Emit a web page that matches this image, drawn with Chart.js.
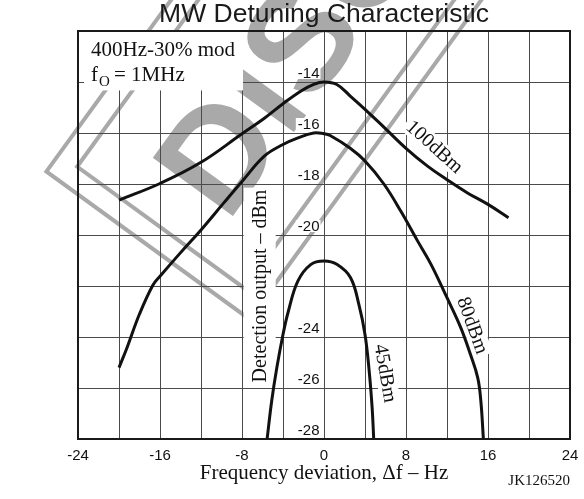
<!DOCTYPE html>
<html>
<head>
<meta charset="utf-8">
<script src="https://cdn.jsdelivr.net/npm/chart.js@4.4.1/dist/chart.umd.min.js"></script>
<style>
  html, body { margin: 0; padding: 0; background: #fff; }
  #wrap { width: 584px; height: 499px; }
</style>
</head>
<body>
<div id="wrap"><canvas id="detuneChart" width="584" height="499"></canvas></div>
<script>
// Frequency deviation (Hz) and detection output (dBm)
var x100 = [-20, -16, -12, -8, -5.85, -4, -2.2, -1, 0, 1.25, 2.56, 4, 5.84, 8, 10.1, 12, 14, 16, 18];
var y100 = [-18.63, -17.98, -17.15, -16.03, -15.43, -14.85, -14.34, -14.09, -14.0, -14.1, -14.55, -15.07, -15.77, -16.6, -17.3, -17.83, -18.35, -18.8, -19.32];

var x80 = [-20, -19.2, -18, -16.7, -16, -14.1, -12, -9.8, -8, -5.8, -4, -2.6, -1, 0, 0.6, 2.56, 4, 5.84, 7.5, 9.14, 10.44, 12, 13.35, 14.3, 15, 15.3, 15.55];
var y80 = [-25.2, -24.4, -23.1, -21.97, -21.62, -20.74, -19.8, -18.75, -17.9, -16.9, -16.45, -16.2, -16.0, -16.03, -16.1, -16.6, -17.1, -18.0, -19.07, -20.24, -21.15, -22.46, -23.64, -24.7, -25.6, -26.5, -28];

var x45 = [-5.55, -5.1, -4.6, -4, -3.47, -2.54, -1.3, 0, 1.25, 2.58, 3.4, 4, 4.4, 4.7, 4.85];
var y45 = [-28, -26.5, -25.2, -23.9, -22.98, -21.8, -21.16, -21.02, -21.15, -21.67, -22.72, -23.9, -25.3, -26.8, -28];

var xTickLabels = [-24, -16, -8, 0, 8, 16, 24];
var yTickLabels = [-14, -16, -18, -20, -24, -26, -28];

var SANS = "'Liberation Sans', Arial, sans-serif";
var SERIF = "'Liberation Serif', 'Times New Roman', serif";
var GREY = '#a9a9a9';

function toPoints(xs, ys) {
    return xs.map(function (x, i) { return { x: x, y: ys[i] }; });
}

// white backed text, rotated about its centre
function boxedText(ctx, text, px, py, deg, font) {
    ctx.save();
    ctx.translate(px, py);
    ctx.rotate(deg * Math.PI / 180);
    ctx.font = font;
    var w = ctx.measureText(text).width;
    ctx.fillStyle = '#fff';
    ctx.fillRect(-w / 2 - 3, -10, w + 6, 20);
    ctx.fillStyle = '#111';
    ctx.textAlign = 'center';
    ctx.textBaseline = 'alphabetic';
    ctx.fillText(text, 0, 6);
    ctx.restore();
}

var decor = {
    id: 'decor',
    beforeDraw: function (chart) {
        var ctx = chart.ctx;
        ctx.save();
        ctx.fillStyle = '#fff';
        ctx.fillRect(0, 0, chart.width, chart.height);
        // DISCONTINUED stamp behind everything
        ctx.translate(320, 222);
        ctx.rotate(-54 * Math.PI / 180);
        ctx.strokeStyle = GREY;
        ctx.lineWidth = 4;
        ctx.strokeRect(-120, -251, 1000, 251);
        ctx.strokeRect(-98, -229, 1000, 207);
        ctx.fillStyle = GREY;
        ctx.font = 'bold 144px ' + SANS;
        ctx.fillText('DISCONTINUED', -56, -74);
        ctx.restore();
    },
    beforeDatasetsDraw: function (chart) {
        var ctx = chart.ctx, xs = chart.scales.x, ys = chart.scales.y, a = chart.chartArea;
        ctx.save();

        // conditions box, top left
        var bx = xs.getPixelForValue(-7.9), by = ys.getPixelForValue(-14.33);
        ctx.fillStyle = '#fff';
        ctx.fillRect(a.left + 6, a.top + 1, bx - a.left - 6, by - a.top - 1);
        ctx.fillStyle = '#111';
        ctx.textAlign = 'left';
        ctx.textBaseline = 'alphabetic';
        ctx.font = '21px ' + SERIF;
        ctx.fillText('400Hz-30% mod', a.left + 13, a.top + 25);
        ctx.fillText('f', a.left + 13, a.top + 50);
        ctx.font = '15px ' + SERIF;
        ctx.fillText('O', a.left + 21, a.top + 55);
        ctx.font = '21px ' + SERIF;
        ctx.fillText('= 1MHz', a.left + 36, a.top + 50);

        // y tick labels sit inside the plot, left of the 0 Hz line
        var lx = xs.getPixelForValue(0) - 4.5;
        ctx.font = '15px ' + SANS;
        ctx.textAlign = 'right';
        yTickLabels.forEach(function (v) {
            var py = ys.getPixelForValue(v) - 4;
            var w = ctx.measureText(String(v)).width;
            ctx.fillStyle = '#fff';
            ctx.fillRect(lx - w - 2, py - 11, w + 3, 12);
            ctx.fillStyle = '#111';
            ctx.fillText(String(v), lx, py);
        });

        // y axis title, also inside the plot
        ctx.save();
        ctx.translate(xs.getPixelForValue(-6.18), ys.getPixelForValue(-22));
        ctx.rotate(-Math.PI / 2);
        ctx.font = '20px ' + SERIF;
        var tw = ctx.measureText('Detection output \u2013 dBm').width;
        ctx.fillStyle = '#fff';
        ctx.fillRect(-tw / 2 - 2, -17, tw + 4, 32);
        ctx.fillStyle = '#111';
        ctx.textAlign = 'center';
        ctx.fillText('Detection output \u2013 dBm', 0, 5.5);
        ctx.restore();

        // curve labels
        boxedText(ctx, '100dBm', xs.getPixelForValue(10.8), ys.getPixelForValue(-16.54), 42, '20px ' + SERIF);
        boxedText(ctx, '80dBm', xs.getPixelForValue(14.5), ys.getPixelForValue(-23.54), 70, '20px ' + SERIF);
        boxedText(ctx, '45dBm', xs.getPixelForValue(6.0), ys.getPixelForValue(-25.42), 80, '20px ' + SERIF);

        ctx.restore();
    },
    afterDatasetsDraw: function (chart) {
        var ctx = chart.ctx, a = chart.chartArea;
        ctx.save();
        ctx.strokeStyle = '#1a1a1a';
        ctx.lineWidth = 2;
        ctx.strokeRect(a.left, a.top, a.right - a.left, a.bottom - a.top);

        ctx.fillStyle = '#1a1a1a';
        ctx.textAlign = 'center';
        ctx.textBaseline = 'alphabetic';
        ctx.font = '26.5px ' + SANS;
        ctx.fillText('MW Detuning Characteristic', (a.left + a.right) / 2, 21.7);

        ctx.fillStyle = '#111';
        ctx.font = '21px ' + SERIF;
        ctx.fillText('Frequency deviation, \u0394f \u2013 Hz', (a.left + a.right) / 2, 479);

        ctx.textAlign = 'right';
        ctx.font = '15px ' + SERIF;
        ctx.fillText('JK126520', a.right, 485);
        ctx.restore();
    }
};

function curve(xs, ys) {
    return {
        data: toPoints(xs, ys),
        showLine: true,
        borderColor: '#111',
        borderWidth: 3,
        pointRadius: 0,
        fill: false,
        tension: 0.4
    };
}

var ctx = document.getElementById('detuneChart').getContext('2d');
new Chart(ctx, {
    type: 'scatter',
    data: {
        datasets: [curve(x100, y100), curve(x80, y80), curve(x45, y45)]
    },
    options: {
        responsive: false,
        animation: false,
        devicePixelRatio: 1,
        layout: { padding: { left: 78, top: 31, right: 14, bottom: 26 } },
        plugins: { legend: { display: false }, tooltip: { enabled: false }, title: { display: false } },
        scales: {
            x: {
                type: 'linear', min: -24, max: 24,
                border: { display: false },
                grid: { color: '#4a4a4a', lineWidth: 1, drawTicks: false },
                ticks: {
                    stepSize: 4, padding: 8, color: '#111', autoSkip: false, maxRotation: 0,
                    font: { family: SANS, size: 15 },
                    callback: function (v) { return xTickLabels.indexOf(v) >= 0 ? String(v) : ''; }
                },
                // end labels may hang over the frame; keep the plot edges where they are
                afterFit: function (scale) { scale.paddingLeft = 0; scale.paddingRight = 0; }
            },
            y: {
                min: -28, max: -12,
                border: { display: false },
                grid: { color: '#4a4a4a', lineWidth: 1, drawTicks: false },
                ticks: { display: false, stepSize: 2 }
            }
        }
    },
    plugins: [decor]
});
</script>
</body>
</html>
